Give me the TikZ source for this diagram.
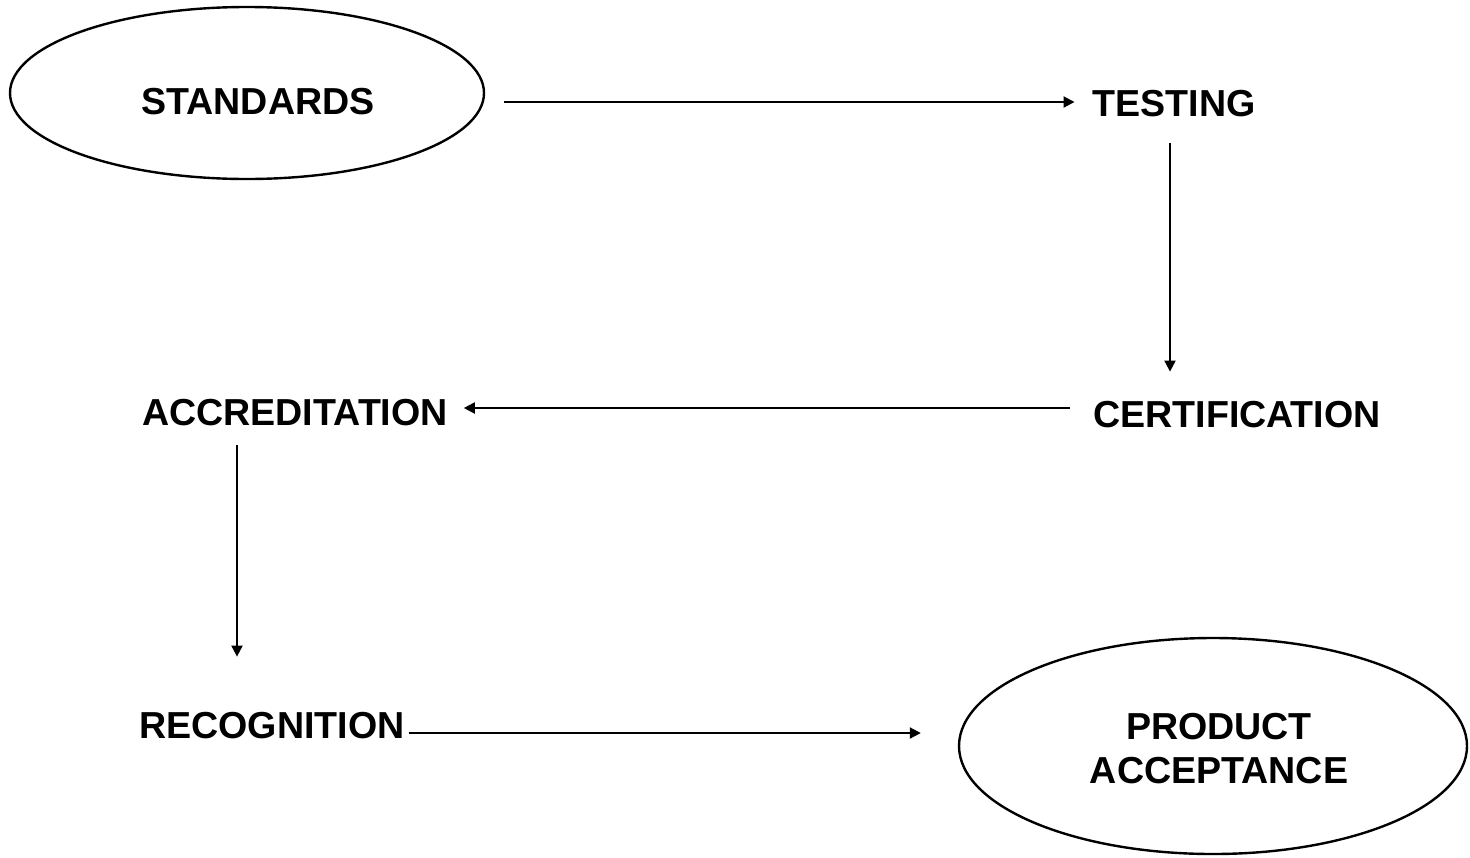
\documentclass[tikz,border=0pt]{standalone}
\usepackage{fontspec}
\setmainfont{Liberation Sans}
\usetikzlibrary{arrows.meta,shapes.geometric,calc}
\begin{document}
\begin{tikzpicture}[x=0.5pt,y=-0.5pt,
  lbl/.style={font=\fontsize{18.8pt}{22pt}\selectfont\bfseries, inner sep=0pt, outer sep=0pt, text height=13.4pt, text depth=0pt},
  oval/.style={draw, ellipse, line width=1.2pt, inner sep=0pt},
  arr/.style={line width=1pt, -{Triangle[length=5.5pt,width=5.5pt]}}]
\useasboundingbox (0,0) rectangle (1470,857);
% ovals
\node[oval, minimum width=237pt, minimum height=86pt] (stdell) at (247,93) {};
\node[oval, minimum width=254pt, minimum height=108pt] (prodell) at (1213,746) {};
% labels
\node[lbl] (standards) at (258,101) {STANDARDS};
\node[lbl] (testing) at (1174,103) {TESTING};
\node[lbl] (certification) at (1237,414) {CERTIFICATION};
\node[lbl] (accreditation) at (295,412) {ACCREDITATION};
\node[lbl] (recognition) at (272,725) {RECOGNITION};
\node[lbl, align=center, text height=, text depth=] (product) at (1219,749) {PRODUCT\\ACCEPTANCE};
% connectors
\draw[arr] ($(stdell.east |- testing.west)+(19,-1)$) -- ($(testing.west)+(-18,-1)$);
\draw[arr] ($(testing.south)+(-4,27)$) -- ($(testing.south |- certification.north)+(-4,-29)$);
\draw[arr] ($(certification.west)+(-23,-6)$) -- ($(accreditation.east)+(16,-4)$);
\draw[arr] ($(accreditation.south)+(-58,20)$) -- ($(accreditation.south |- recognition.north)+(-58,-55)$);
\draw[arr] ($(recognition.east)+(4,8)$) -- ($(prodell.west |- recognition.east)+(-37,8)$);
\end{tikzpicture}
\end{document}
